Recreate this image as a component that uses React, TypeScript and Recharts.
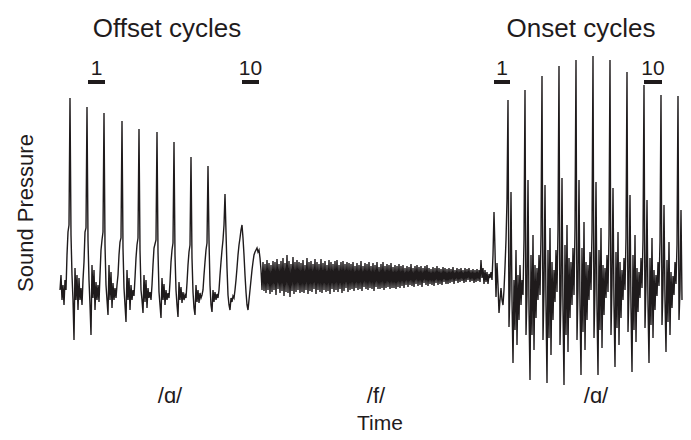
import React from "react";
import { LineChart, Line, XAxis, YAxis, ReferenceArea } from "recharts";

// sound pressure, one sample per time step
const sampleStep = 1;

// end of the vowel /ɑ/ (offset cycles)
const offsetStart = 60;
const offsetVowel = [
  -10, 5, -20, -5, -25, 0, -10, 25, 48, 55,
  182, 45, 5, -20, -60, 12, -20, 5, -30, 2, -20, -8, -25, 0, 18, 48, 52,
  173, 40, 0, -25, -55, 15, -18, 10, -30, -2, -20, -5, -22, 5, 30, 40, 48,
  167, 35, -5, -20, -35, 15, -20, 8, -28, -3, -20, -8, -18, -5, 5, 25, 38, 42,
  159, 32, -8, -25, -42, 10, -20, 2, -30, -5, -20, -10, -16, 2, 22, 35, 42,
  151, 30, -10, -20, -33, 5, -22, 0, -28, -8, -18, -12, -20, -5, 15, 32, 36, 40,
  148, 28, -12, -25, -38, 2, -20, -4, -25, -10, -20, -13, -18, -2, 18, 30, 37,
  138, 25, -10, -25, -37, -2, -20, -7, -23, -12, -20, -15, -18, -3, 15, 28, 35,
  123, 22, -12, -28, -35, -5, -22, -10, -23, -13, -18, -15, -10, 5, 18, 30, 37,
  114, 40, -5, -25, -32, -10, -22, -12, -20, -14, -18, -10, 5, 18, 30, 40, 55,
  86, 48, 12, -15, -25, -30, -18, -22, -16, -18, -10, 0, 12, 25, 35, 42, 50,
  55, 42, 25, 5, -12, -25, -30, -20, -10, 0, 10, 18, 25, 28, 30, 32, 28, 30, 22, 10, -10,
];

// the fricative /f/
const noiseStart = 263;
const fricativeNoise = [
  18, -11, 16, -13, 20, -10, 17, -14, 15, -12, 19, -10, 18, -15, 21, -9, 16, -13, 19, -11,
  22, -16, 17, -12, 25, -13, 19, -17, 16, -11, 23, -14, 18, -12, 20, -10, 18, -13,
  17, -12, 20, -13, 15, -10, 22, -14, 18, -11, 19, -12, 16, -9, 21, -14, 18, -10, 16, -12,
  21, -13, 17, -10, 19, -12, 15, -11, 20, -14, 18, -9, 16, -12, 19, -10, 20, -12, 15, -9,
  18, -13, 19, -11, 16, -8, 18, -12, 17, -10,
  16, -9, 18, -11, 14, -8, 17, -10, 15, -9, 19, -11, 14, -7, 17, -9, 16, -10, 18, -8,
  14, -9, 17, -11, 15, -7, 18, -9, 13, -9, 16, -8, 18, -10, 14, -8, 16, -7, 15, -9,
  17, -8, 13, -8, 15, -9, 14, -7, 16, -8,
  14, -6, 15, -8, 12, -5, 14, -7, 13, -5, 16, -6, 12, -7, 14, -4, 15, -6, 13, -5,
  14, -7, 12, -3, 14, -5, 15, -6, 12, -4, 11, -5, 13, -6, 12, -3, 14, -5, 12, -4,
  11, -5, 13, -2, 12, -4, 11, -4, 12, -3,
  11, -2, 13, -4, 10, -1, 12, -3, 11, -2, 12, -1, 10, -3, 12, -2, 11, 0, 12, -2,
  10, -1, 11, -3, 10, -2, 11, -1, 10, -2, 20, 2, 12, -4, 10, -2, 8, -4, 6,
];

// start of the vowel /ɑ/ (onset cycles)
const onsetStart = 490;
const onsetVowel = [
  2, 8, 0, 25, 68, 30, -17, 17, -5, -33, -20, -8, -20, -25, -10, 13, 40, 80,
  180, -47, -10, 88, -20, -83, 0, -50, 30, -65, 5, -40, 15, -25, 0, -15, 40,
  190, -55, -15, 100, -30, -100, 25, -55, 45, -70, 15, -38, 12, -20, 25, -15, 45,
  204, -60, -10, 95, -25, -103, 30, -58, 52, -75, 18, -40, 10, -22, 30, -12, 50,
  214, -65, -15, 102, -30, -105, 35, -55, 55, -72, 22, -38, 18, -25, 32, -15, 52,
  220, -60, -10, 100, -25, -95, 32, -52, 58, -70, 18, -40, 15, -20, 28, -10, 48,
  224, -58, -8, 98, -28, -95, 30, -50, 52, -68, 15, -35, 12, -18, 25, -12, 45,
  220, -55, -5, 92, -25, -87, 28, -48, 48, -65, 18, -38, 10, -20, 22, -10, 42,
  208, -52, -10, 85, -28, -92, 25, -50, 45, -62, 12, -32, 8, -18, 22, -8, 40,
  195, -48, -5, 80, -25, -83, 22, -45, 42, -58, 10, -30, 5, -16, 18, -6, 38,
  185, -45, -8, 75, -20, -72, 20, -42, 38, -55, 8, -28, 4, -15, 18, -4, 35,
  184, -40, -10, 70, -20,
];

// cycle markers above the trace (time span of each bar)
const cycleMarkers = [
  { label: "1", from: 88, to: 105 },
  { label: "10", from: 242, to: 259 },
  { label: "1", from: 494, to: 510 },
  { label: "10", from: 644, to: 662 },
];

const segmentLabels = [
  { text: "/ɑ/", x: 170 },
  { text: "/f/", x: 376 },
  { text: "/ɑ/", x: 596 },
];

const ink = "#1f1b1c";
const font = "'Liberation Sans', Arial, Helvetica, sans-serif";

const toPoints = (values: number[], start: number) =>
  values.map((p, i) => ({ t: start + i * sampleStep, p }));

const data = [
  ...toPoints(offsetVowel, offsetStart),
  ...toPoints(fricativeNoise, noiseStart),
  ...toPoints(onsetVowel, onsetStart),
];

export default function App() {
  return (
    <div style={{ position: "absolute", left: 0, top: 0, width: 691, height: 440, background: "#fff" }}>
      <LineChart width={691} height={440} data={data} margin={{ top: 50, right: 9, bottom: 50, left: 60 }}>
        <XAxis dataKey="t" type="number" domain={[60, 682]} hide />
        <YAxis type="number" domain={[-110, 230]} hide allowDataOverflow />
        {cycleMarkers.map((m, i) => (
          <ReferenceArea
            key={i}
            x1={m.from}
            x2={m.to}
            y1={196}
            y2={200}
            fill={ink}
            fillOpacity={1}
            stroke="none"
            ifOverflow="visible"
            label={{ value: m.label, position: "top", offset: 5, fontSize: 21, fill: ink, fontFamily: font }}
          />
        ))}
        <Line
          type="linear"
          dataKey="p"
          stroke={ink}
          strokeWidth={1.4}
          dot={false}
          activeDot={false}
          isAnimationActive={false}
        />
      </LineChart>
      <svg
        width={691}
        height={440}
        style={{ position: "absolute", left: 0, top: 0, pointerEvents: "none" }}
        fontFamily={font}
        fill={ink}
      >
        <text x={167} y={37} fontSize={26} textAnchor="middle">Offset cycles</text>
        <text x={581} y={37} fontSize={26} textAnchor="middle">Onset cycles</text>
        <text transform="translate(33,213) rotate(-90)" fontSize={22} textAnchor="middle">Sound Pressure</text>
        {segmentLabels.map((s, i) => (
          <text key={i} x={s.x} y={403} fontSize={22} textAnchor="middle">{s.text}</text>
        ))}
        <text x={380} y={430} fontSize={21} textAnchor="middle">Time</text>
      </svg>
    </div>
  );
}
